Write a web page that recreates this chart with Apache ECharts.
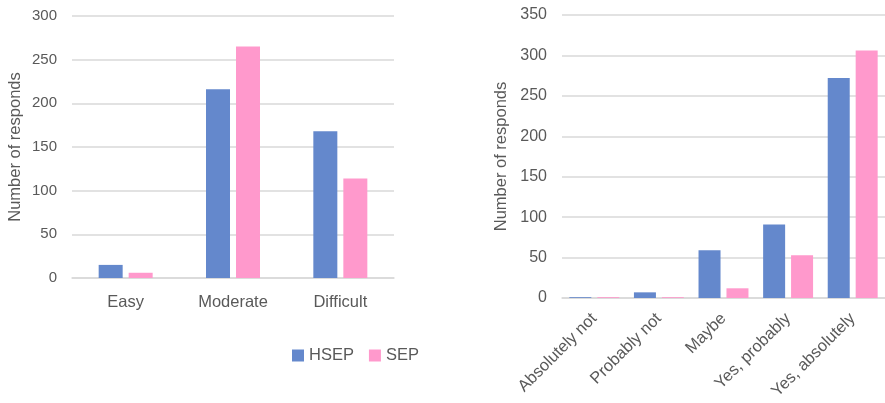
<!DOCTYPE html>
<html><head><meta charset="utf-8">
<script src="https://cdn.jsdelivr.net/npm/echarts@6/dist/echarts.min.js"></script>
<style>html,body{margin:0;padding:0;background:#fff}#c{width:885px;height:403px}</style>
</head><body><div id="c"></div>
<script>
const seriesNames = ['HSEP', 'SEP'];
const diffCategories = ['Easy', 'Moderate', 'Difficult'];
const diffHSEP = [15, 216, 168];
const diffSEP = [6, 265, 114];
const recCategories = ['Absolutely not', 'Probably not', 'Maybe', 'Yes, probably', 'Yes, absolutely'];
const recHSEP = [1, 7, 59, 91, 272];
const recSEP = [1, 1, 12, 53, 306];
const yAxisTitle = 'Number of responds';

const colors = {HSEP: '#6488CC', SEP: '#FF99CC'};
const font = 'Liberation Sans, Arial, sans-serif';
const textColor = '#595959';
const gridColor = '#D9D9D9';

const chart = echarts.init(document.getElementById('c'));
function yAx(i, max, interval, nameGap, fs) {
  return {
    gridIndex: i, type: 'value', min: 0, max: max, interval: interval,
    name: yAxisTitle, nameLocation: 'middle', nameGap: nameGap, nameRotate: 90,
    nameTextStyle: {color: textColor, fontSize: 16.5, fontFamily: font},
    axisLine: {show: false}, axisTick: {show: false},
    axisLabel: {color: textColor, fontSize: fs, fontFamily: font, margin: 15},
    splitLine: {lineStyle: {color: gridColor, width: 1.5}}
  };
}
function xAx(i, cats, rotate) {
  return {
    gridIndex: i, type: 'category', data: cats,
    axisLine: {lineStyle: {color: gridColor, width: 1.5}},
    axisTick: {show: false},
    axisLabel: {color: textColor, fontSize: 16.5, fontFamily: font, rotate: rotate, margin: rotate ? 18 : 16, interval: 0}
  };
}
function bar(name, data, xi, w, gap) {
  return {
    name: name, type: 'bar', xAxisIndex: xi, yAxisIndex: xi, data: data,
    barWidth: w, barGap: gap,
    itemStyle: {color: colors[name]}
  };
}
chart.setOption({
  animation: false,
  color: [colors.HSEP, colors.SEP],
  grid: [
    {left: 72, right: 491, top: 16, bottom: 125},
    {left: 562, width: 327, top: 15, bottom: 105}
  ],
  legend: {
    data: seriesNames, left: 287, top: 342, itemWidth: 12, itemHeight: 12, itemGap: 15,
    icon: 'rect',
    textStyle: {color: textColor, fontSize: 16.5, fontFamily: font}
  },
  xAxis: [xAx(0, diffCategories, 0), xAx(1, recCategories, 45)],
  yAxis: [yAx(0, 300, 50, 48, 15), yAx(1, 350, 50, 52, 16)],
  series: [
    bar('HSEP', diffHSEP, 0, 24, '25%'),
    bar('SEP', diffSEP, 0, 24, '25%'),
    bar('HSEP', recHSEP, 1, 22, '27%'),
    bar('SEP', recSEP, 1, 22, '27%')
  ]
});
</script></body></html>
